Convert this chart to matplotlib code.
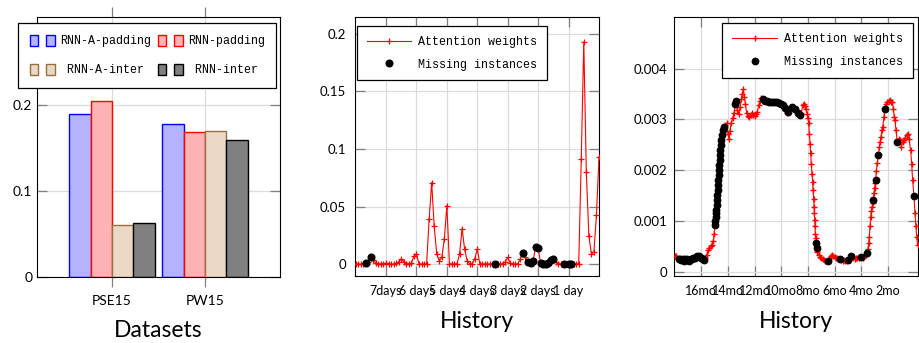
import numpy as np
import matplotlib
matplotlib.use('Agg')
import matplotlib.pyplot as plt
from matplotlib.patches import Rectangle
from matplotlib.legend_handler import HandlerTuple

SANS = ['Lato', 'DejaVu Sans']
MONO = ['Liberation Mono', 'DejaVu Sans Mono']
plt.rcParams['font.family'] = SANS

# ---- panel 1: bars
datasets = ['PSE15', 'PW15']
bar_labels = ['RNN-A-padding', 'RNN-padding', 'RNN-A-inter', 'RNN-inter']
rnn_a_padding = [0.189, 0.178]
rnn_padding = [0.2045, 0.168]
rnn_a_inter = [0.0605, 0.170]
rnn_inter = [0.0625, 0.159]
bar_yticks = [0, 0.1, 0.2]
bar_yticklabels = ['0', '0.1', '0.2']

# ---- panel 2: attention over the last 8 days (2-hour steps)
p2_hours = np.arange(-192, 1, 2)
p2_weights = [
    0.0003, 0.0003, 0.0002, 0.0005, 0.001, 0.002, 0.006, 0.004, 0.001, 0.0005,
    0.0003, 0.0005, 0.001, 0.0003, 0.0002, 0.0002, 0.001, 0.002, 0.005, 0.002,
    0.0005, 0.0005, 0.001, 0.007, 0.009, 0.0005, 0.0003, 0.0003, 0.0005, 0.039,
    0.071, 0.033, 0.009, 0.003, 0.006, 0.022, 0.051, 0.0005, 0.0003, 0.0003,
    0.0005, 0.009, 0.031, 0.013, 0.003, 0.0005, 0.0005, 0.005, 0.013, 0.0005,
    0.0003, 0.0003, 0.0003, 0.0003, 0.0003, 0.0003, 0.0003, 0.0003, 0.0005, 0.002,
    0.006, 0.001, 0.0003, 0.0003, 0.0005, 0.005, 0.010, 0.006, 0.002, 0.001,
    0.003, 0.015, 0.014, 0.001, 0.0002, 0.0002, 0.001, 0.004, 0.005, 0.002,
    0.0005, 0.0003, 0.0003, 0.0005, 0.0003, 0.0002, 0.0005, 0.0005, 0.0005, 0.091,
    0.193, 0.080, 0.025, 0.009, 0.011, 0.043, 0.093]
p2_missing = [4, 6, 55, 66, 68, 69, 70, 71, 72, 73, 74, 75, 76, 77, 78, 82, 84, 85]
p2_xticks = [-7, -6, -5, -4, -3, -2, -1]
p2_xticklabels = ['7days', '6 days', '5 days', '4 days', '3 days', '2 days', '1 day']
p2_yticks = [0, 0.05, 0.1, 0.15, 0.2]
p2_yticklabels = ['0', '0.05', '0.1', '0.15', '0.2']

# ---- panel 3: attention over 18 months (weights in 1e-3)
p3_month = [
    -18.0, -17.9, -17.8, -17.7, -17.6, -17.5, -17.4, -17.3, -17.2, -17.1,
    -17.0, -16.9, -16.8, -16.7, -16.6, -16.5, -16.4, -16.3, -16.2, -16.1,
    -16.0, -15.9, -15.8, -15.7, -15.6, -15.5, -15.4, -15.3, -15.2, -15.1,
    -15.04, -14.98, -14.95, -14.925, -14.9, -14.875, -14.85, -14.825, -14.8, -14.775,
    -14.75, -14.725, -14.7, -14.675, -14.65, -14.625, -14.6, -14.575, -14.55, -14.525,
    -14.475, -14.4, -14.3, -14.2, -14.1, -14.0, -13.925, -13.85, -13.75, -13.65,
    -13.55, -13.45, -13.4, -13.3, -13.2, -13.1, -13.0, -12.925, -12.85, -12.775,
    -12.7, -12.6, -12.5, -12.4, -12.3, -12.2, -12.1, -12.0, -11.9, -11.8,
    -11.7, -11.6, -11.5, -11.4, -11.25, -11.1, -10.95, -10.8, -10.65, -10.5,
    -10.35, -10.2, -10.05, -9.9, -9.75, -9.6, -9.475, -9.35, -9.225, -9.1,
    -8.975, -8.85, -8.725, -8.6, -8.5, -8.4, -8.3, -8.2, -8.15, -8.075,
    -8.0, -7.95, -7.9, -7.85, -7.8, -7.75, -7.7, -7.65, -7.625, -7.575,
    -7.55, -7.525, -7.5, -7.475, -7.45, -7.4, -7.375, -7.35, -7.3, -7.2,
    -7.1, -7.0, -6.9, -6.8, -6.7, -6.6, -6.5, -6.4, -6.3, -6.2,
    -6.1, -6.0, -5.9, -5.8, -5.7, -5.6, -5.5, -5.4, -5.3, -5.2,
    -5.1, -5.0, -4.9, -4.8, -4.7, -4.6, -4.5, -4.4, -4.3, -4.2,
    -4.1, -4.0, -3.9, -3.8, -3.7, -3.6, -3.5, -3.45, -3.4, -3.35,
    -3.3, -3.25, -3.2, -3.15, -3.1, -3.05, -3.0, -2.95, -2.925, -2.875,
    -2.8, -2.725, -2.65, -2.6, -2.525, -2.45, -2.4, -2.3, -2.225, -2.15,
    -2.05, -1.95, -1.85, -1.75, -1.675, -1.6, -1.525, -1.475, -1.4, -1.3,
    -1.2, -1.1, -1.0, -0.9, -0.8, -0.7, -0.6, -0.525, -0.425, -0.3,
    -0.225, -0.15, -0.05, 0.025, 0.1, 0.15, 0.225]
p3_weight = [
    0.30, 0.31, 0.27, 0.25, 0.24, 0.23, 0.24, 0.22, 0.24, 0.24,
    0.23, 0.22, 0.25, 0.24, 0.26, 0.27, 0.29, 0.31, 0.30, 0.29,
    0.27, 0.24, 0.23, 0.26, 0.33, 0.42, 0.47, 0.50, 0.53, 0.60,
    0.75, 0.92, 1.00, 1.08, 1.15, 1.21, 1.31, 1.41, 1.51, 1.61,
    1.70, 1.80, 1.90, 2.00, 2.10, 2.20, 2.30, 2.39, 2.49, 2.59,
    2.69, 2.79, 2.85, 2.88, 2.92, 2.72, 2.62, 2.78, 2.93, 3.02,
    3.12, 3.30, 3.37, 3.18, 3.10, 3.25, 3.40, 3.50, 3.59, 3.45,
    3.30, 3.12, 3.06, 3.04, 3.08, 3.12, 3.08, 3.07, 3.11, 3.14,
    3.28, 3.36, 3.43, 3.40, 3.37, 3.36, 3.35, 3.34, 3.34, 3.35,
    3.34, 3.33, 3.31, 3.28, 3.22, 3.12, 3.15, 3.22, 3.25, 3.23,
    3.20, 3.17, 3.13, 3.08, 3.12, 3.28, 3.31, 3.27, 3.21, 3.11,
    3.02, 2.92, 2.72, 2.52, 2.33, 2.13, 1.93, 1.77, 1.61, 1.44,
    1.28, 1.15, 1.02, 0.89, 0.75, 0.66, 0.56, 0.46, 0.39, 0.33,
    0.29, 0.26, 0.24, 0.23, 0.22, 0.21, 0.21, 0.24, 0.30, 0.33,
    0.30, 0.28, 0.26, 0.26, 0.25, 0.25, 0.23, 0.22, 0.23, 0.22,
    0.22, 0.23, 0.26, 0.30, 0.29, 0.26, 0.25, 0.27, 0.26, 0.27,
    0.28, 0.28, 0.27, 0.29, 0.33, 0.36, 0.45, 0.56, 0.69, 0.89,
    1.08, 1.20, 1.28, 1.35, 1.41, 1.55, 1.65, 1.75, 1.80, 1.98,
    2.15, 2.29, 2.45, 2.55, 2.66, 2.80, 2.85, 3.05, 3.21, 3.30,
    3.34, 3.37, 3.38, 3.35, 3.34, 3.21, 3.05, 2.98, 2.79, 2.56,
    2.62, 2.59, 2.46, 2.55, 2.60, 2.63, 2.70, 2.72, 2.62, 2.39,
    2.13, 1.80, 1.49, 1.15, 0.89, 0.69, 0.52]
p3_missing = [
    -17.7, -17.6, -17.5, -17.4, -17.3, -17.2, -17.1, -17.0, -16.9, -16.8,
    -16.7, -16.6, -16.5, -16.4, -16.3, -16.2, -16.1, -16.0, -15.9, -15.8,
    -14.98, -14.95, -14.925, -14.9, -14.875, -14.85, -14.825, -14.8, -14.775, -14.75,
    -14.725, -14.7, -14.675, -14.65, -14.625, -14.6, -14.575, -14.55, -14.525, -14.475,
    -14.4, -14.3, -13.45, -13.4,
    -11.4, -11.25, -11.1, -10.95, -10.8, -10.65, -10.5, -10.35, -10.2, -10.05,
    -9.9, -9.75, -9.475, -9.225, -8.975, -8.725, -8.6,
    -7.375, -7.35, -6.5, -5.6, -5.0, -4.8, -4.0, -3.6, -3.1, -2.925, -2.725,
    -2.225, -1.3, -0.05]
p3_xticks = [-16, -14, -12, -10, -8, -6, -4, -2]
p3_xticklabels = ['16mo', '14mo', '12mo', '10mo', '8mo', '6mo', '4mo', '2mo']
p3_yticks = [0, 0.001, 0.002, 0.003, 0.004]
p3_yticklabels = ['0', '0.001', '0.002', '0.003', '0.004']

GRID = '#dcdcdc'
TICK = '#808080'
W, H = 920, 343

fig = plt.figure(figsize=(9.2, 3.43), dpi=100)
ax1 = fig.add_axes([37 / W, 1 - 276.7 / H, 243 / W, 259.4 / H])
ax2 = fig.add_axes([355 / W, 1 - 276 / H, 244 / W, 258.7 / H])
ax3 = fig.add_axes([674.3 / W, 1 - 276 / H, 244 / W, 258.7 / H])

for ax in (ax1, ax2, ax3):
    ax.set_axisbelow(True)
    ax.grid(True, color=GRID, lw=0.9)
    for s in ax.spines.values():
        s.set_linewidth(0.8)
    ax.tick_params(axis='y', direction='in', left=True, right=True, length=7,
                   color=TICK, width=0.9, labelsize=9.5, pad=5)

# ---- panel 1
fills = ['#b3b3ff', '#ffb3b3', '#ebd9c6', '#808080']
edges = ['#0000ff', '#ff0000', '#96703f', '#000000']
series = [rnn_a_padding, rnn_padding, rnn_a_inter, rnn_inter]
x = np.arange(len(datasets))
bw = 0.23
for k, vals in enumerate(series):
    ax1.bar(x + (k - 1.5) * bw, vals, bw, color=fills[k], edgecolor=edges[k],
            lw=1.0, label=bar_labels[k])
ax1.set_xlim(-0.806, 1.806)
ax1.set_ylim(0, 0.302)
ax1.set_xticks(x)
ax1.set_xticklabels(datasets)
ax1.set_yticks(bar_yticks)
ax1.set_yticklabels(bar_yticklabels)
ax1.tick_params(axis='x', direction='out', top=True, bottom=True, length=7,
                color=TICK, width=0.9, labelsize=10, pad=6)
ax1.tick_params(axis='y', pad=3.5, labelsize=10)
ax1.set_xlabel('Datasets', fontsize=16.5)
ax1.xaxis.set_label_coords(0.5, -0.165)

handles = [(Rectangle((0, 0), 1, 1, fc=f, ec=e, lw=1.0),
            Rectangle((0, 0), 1, 1, fc=f, ec=e, lw=1.0)) for f, e in zip(fills, edges)]
shown = [bar_labels[0], ' ' + bar_labels[2], bar_labels[1], ' ' + bar_labels[3]]
leg1 = ax1.legend([handles[0], handles[2], handles[1], handles[3]], shown,
                  handler_map={tuple: HandlerTuple(ndivide=None, pad=0.68)},
                  ncol=2, loc='upper left', bbox_to_anchor=(18 / W, 1 - 23 / H),
                  bbox_transform=fig.transFigure, prop={'family': MONO, 'size': 8.4},
                  handlelength=2.14, handleheight=1.1, handletextpad=0.43,
                  columnspacing=0.6, labelspacing=1.4, borderpad=1.0,
                  borderaxespad=0, fancybox=False, framealpha=1, edgecolor='black')
leg1.get_frame().set_linewidth(0.9)

# ---- panel 2
p2_days = p2_hours / 24.0
p2_w = np.array(p2_weights)
ax2.plot(p2_days, p2_w, color='red', lw=0.8, marker='+', ms=5, mew=0.9,
         label='Attention weights', zorder=3)
ax2.plot(p2_days[p2_missing], p2_w[p2_missing], ls='none', marker='o', ms=4.8,
         color='black', label='Missing instances', zorder=4)
ax2.set_xlim(-8.02, 0.0)
ax2.set_ylim(-0.0101, 0.2143)
ax2.set_xticks(p2_xticks)
ax2.set_xticklabels(p2_xticklabels)
ax2.set_yticks(p2_yticks)
ax2.set_yticklabels(p2_yticklabels)
ax2.tick_params(axis='x', direction='in', top=True, bottom=True, length=7,
                color=TICK, width=0.9, labelsize=9, pad=6.5)
ax2.tick_params(axis='y', pad=6.5)
ax2.set_xlabel('History', fontsize=16.5)
ax2.xaxis.set_label_coords(0.5, -0.135)
leg2 = ax2.legend(loc='upper left', bbox_to_anchor=(0.0094, 0.966), numpoints=1,
                  prop={'family': MONO, 'size': 8.4}, handlelength=3.76,
                  handletextpad=0.57, labelspacing=0.9, borderpad=0.85,
                  borderaxespad=0, fancybox=False, framealpha=1, edgecolor='black')
leg2.get_frame().set_linewidth(0.9)

# ---- panel 3
p3_m = np.array(p3_month)
p3_w = np.array(p3_weight) * 1e-3
miss = np.isin(p3_m, p3_missing)
ax3.plot(p3_m, p3_w, color='red', lw=0.8, marker='+', ms=5, mew=1.0,
         label='Attention weights', zorder=3)
ax3.plot(p3_m[miss], p3_w[miss], ls='none', marker='o', ms=4.6, color='black',
         label='Missing instances', zorder=4)
ax3.set_xlim(-18.03, 0.275)
ax3.set_ylim(-0.000085, 0.00501)
ax3.set_xticks(p3_xticks)
ax3.set_xticklabels(p3_xticklabels)
ax3.set_yticks(p3_yticks)
ax3.set_yticklabels(p3_yticklabels)
ax3.tick_params(axis='x', direction='in', top=True, bottom=True, length=7,
                color=TICK, width=0.9, labelsize=9, pad=6.5)
ax3.set_xlabel('History', fontsize=16.5)
ax3.xaxis.set_label_coords(0.5, -0.135)
leg3 = ax3.legend(loc='upper right', bbox_to_anchor=(0.977, 0.977), numpoints=1,
                  prop={'family': MONO, 'size': 8.4}, handlelength=3.85,
                  handletextpad=0.57, labelspacing=0.9, borderpad=0.85,
                  borderaxespad=0, fancybox=False, framealpha=1, edgecolor='black')
leg3.get_frame().set_linewidth(0.9)

fig.savefig('out.png', dpi=100)
